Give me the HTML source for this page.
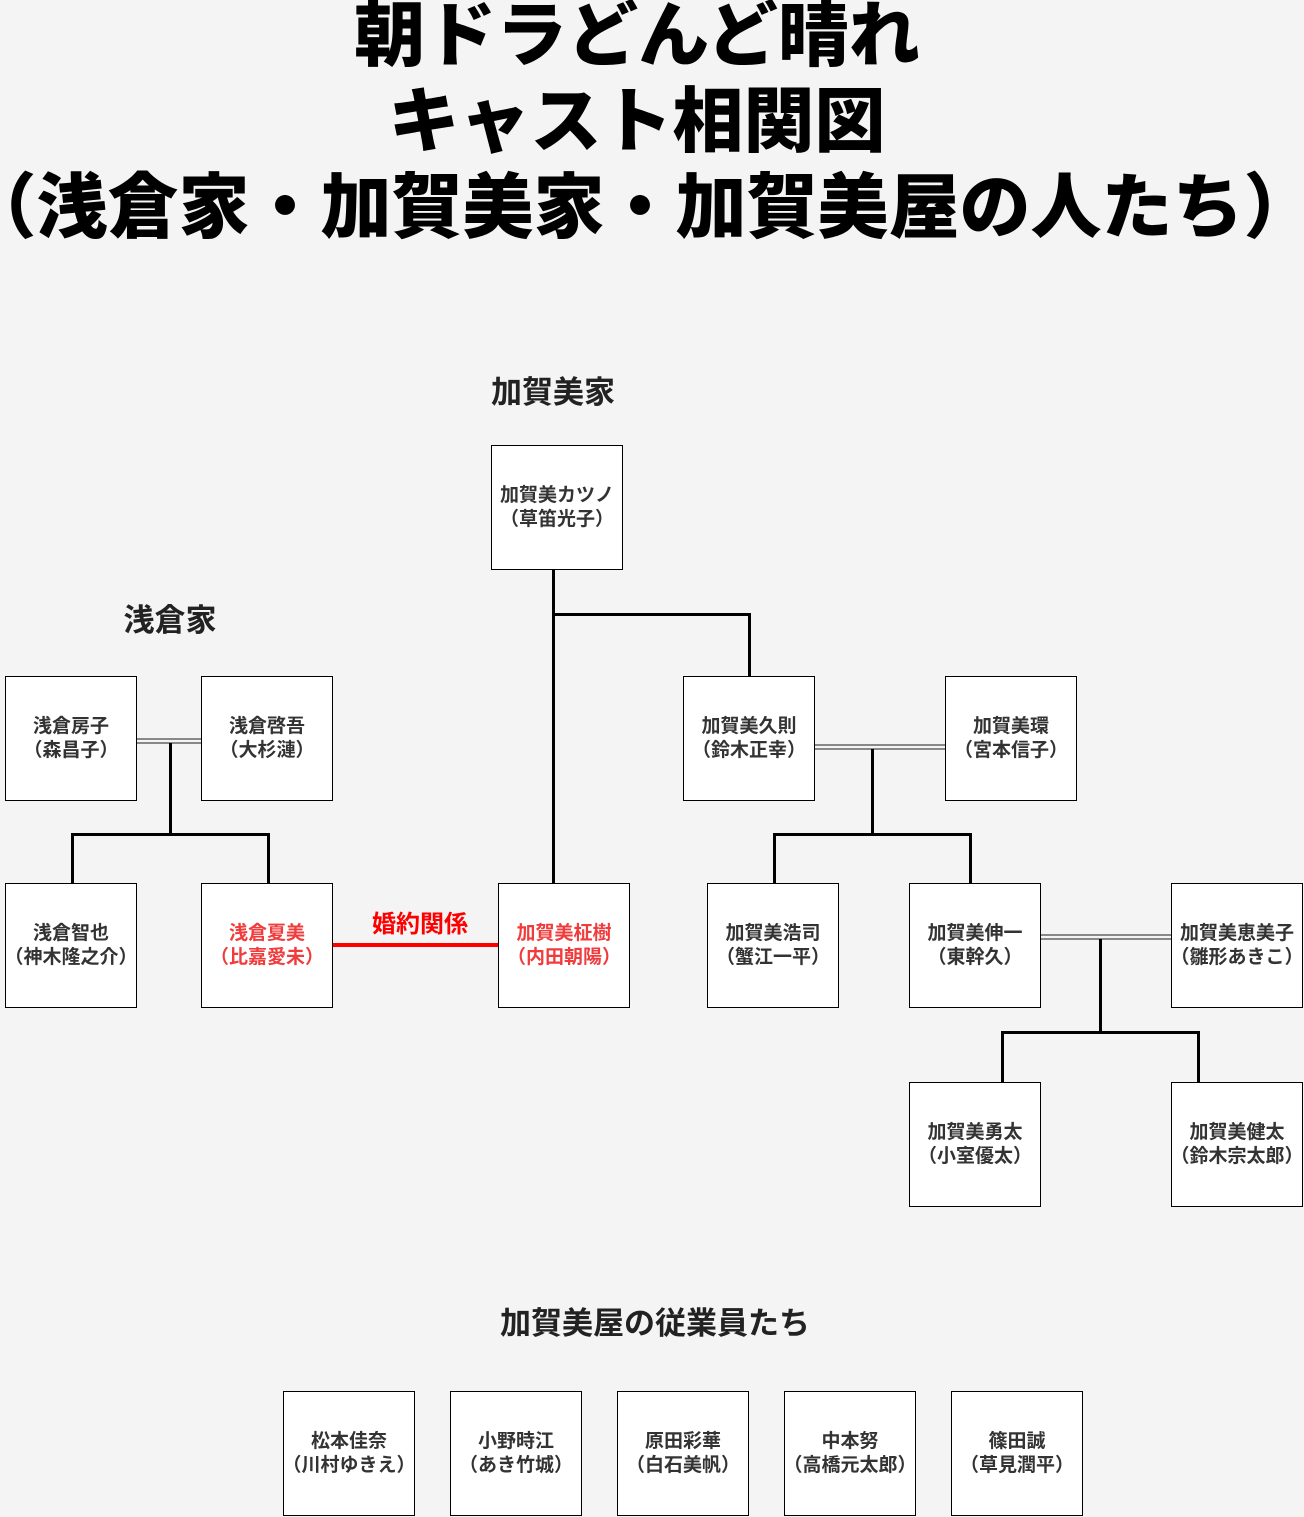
<!DOCTYPE html>
<html><head><meta charset="utf-8"><style>
body{margin:0;width:1304px;height:1517px;background:#f4f4f4;position:relative;overflow:hidden;font-family:"Liberation Sans","Noto Sans CJK JP",sans-serif;}
.t{position:absolute;left:-115px;width:1504px;text-align:center;font-weight:900;font-size:71px;line-height:86px;color:#000;white-space:nowrap;}
.b{position:absolute;width:130px;height:123px;background:#fff;border:1px solid #000;display:flex;align-items:center;justify-content:center;text-align:center;font-weight:bold;font-size:19px;line-height:24px;color:#333;white-space:nowrap;}
.r{color:#f03c3c;}
.l{position:absolute;background:#000;}
.d{position:absolute;height:2px;border-top:2px solid #888;border-bottom:2px solid #888;}
.s{position:absolute;font-weight:bold;font-size:31px;color:#222;white-space:nowrap;transform:translateX(-50%);}
</style></head><body>
<div class="t" style="top:-6px">朝ドラどんど晴れ</div>
<div class="t" style="top:80px">キャスト相関図</div>
<div class="t" style="top:166px;left:-112px">（浅倉家・加賀美家・加賀美屋の人たち）</div>

<div class="s" style="left:553px;top:367px">加賀美家</div>
<div class="s" style="left:170px;top:595px">浅倉家</div>
<div class="s" style="left:655px;top:1298px">加賀美屋の従業員たち</div>
<div class="s" style="left:420px;top:904px;font-size:24px;color:#f00">婚約関係</div>

<div class="l" style="left:552px;top:570px;width:3px;height:313px"></div>
<div class="l" style="left:552px;top:613px;width:199px;height:3px"></div>
<div class="l" style="left:748px;top:613px;width:3px;height:63px"></div>

<div class="d" style="left:137px;top:738px;width:64px"></div>
<div class="l" style="left:169px;top:743px;width:3px;height:92px"></div>
<div class="l" style="left:71px;top:833px;width:199px;height:3px"></div>
<div class="l" style="left:71px;top:833px;width:3px;height:50px"></div>
<div class="l" style="left:267px;top:833px;width:3px;height:50px"></div>

<div class="d" style="left:815px;top:744px;width:130px"></div>
<div class="l" style="left:871px;top:749px;width:3px;height:86px"></div>
<div class="l" style="left:773px;top:833px;width:199px;height:3px"></div>
<div class="l" style="left:773px;top:833px;width:3px;height:50px"></div>
<div class="l" style="left:969px;top:833px;width:3px;height:50px"></div>

<div class="d" style="left:1041px;top:934px;width:130px"></div>
<div class="l" style="left:1099px;top:939px;width:3px;height:95px"></div>
<div class="l" style="left:1001px;top:1031px;width:199px;height:3px"></div>
<div class="l" style="left:1001px;top:1031px;width:3px;height:51px"></div>
<div class="l" style="left:1197px;top:1031px;width:3px;height:51px"></div>

<div class="l" style="left:333px;top:943px;width:165px;height:4px;background:#f00"></div>

<div class="b" style="left:491px;top:445px">加賀美カツノ<br>（草笛光子）</div>
<div class="b" style="left:5px;top:676px">浅倉房子<br>（森昌子）</div>
<div class="b" style="left:201px;top:676px">浅倉啓吾<br>（大杉漣）</div>
<div class="b" style="left:683px;top:676px">加賀美久則<br>（鈴木正幸）</div>
<div class="b" style="left:945px;top:676px">加賀美環<br>（宮本信子）</div>
<div class="b" style="left:5px;top:883px">浅倉智也<br>（神木隆之介）</div>
<div class="b r" style="left:201px;top:883px">浅倉夏美<br>（比嘉愛未）</div>
<div class="b r" style="left:498px;top:883px">加賀美柾樹<br>（内田朝陽）</div>
<div class="b" style="left:707px;top:883px">加賀美浩司<br>（蟹江一平）</div>
<div class="b" style="left:909px;top:883px">加賀美伸一<br>（東幹久）</div>
<div class="b" style="left:1171px;top:883px">加賀美恵美子<br>（雛形あきこ）</div>
<div class="b" style="left:909px;top:1082px">加賀美勇太<br>（小室優太）</div>
<div class="b" style="left:1171px;top:1082px">加賀美健太<br>（鈴木宗太郎）</div>

<div class="b" style="left:283px;top:1391px">松本佳奈<br>（川村ゆきえ）</div>
<div class="b" style="left:450px;top:1391px">小野時江<br>（あき竹城）</div>
<div class="b" style="left:617px;top:1391px">原田彩華<br>（白石美帆）</div>
<div class="b" style="left:784px;top:1391px">中本努<br>（高橋元太郎）</div>
<div class="b" style="left:951px;top:1391px">篠田誠<br>（草見潤平）</div>
</body></html>
